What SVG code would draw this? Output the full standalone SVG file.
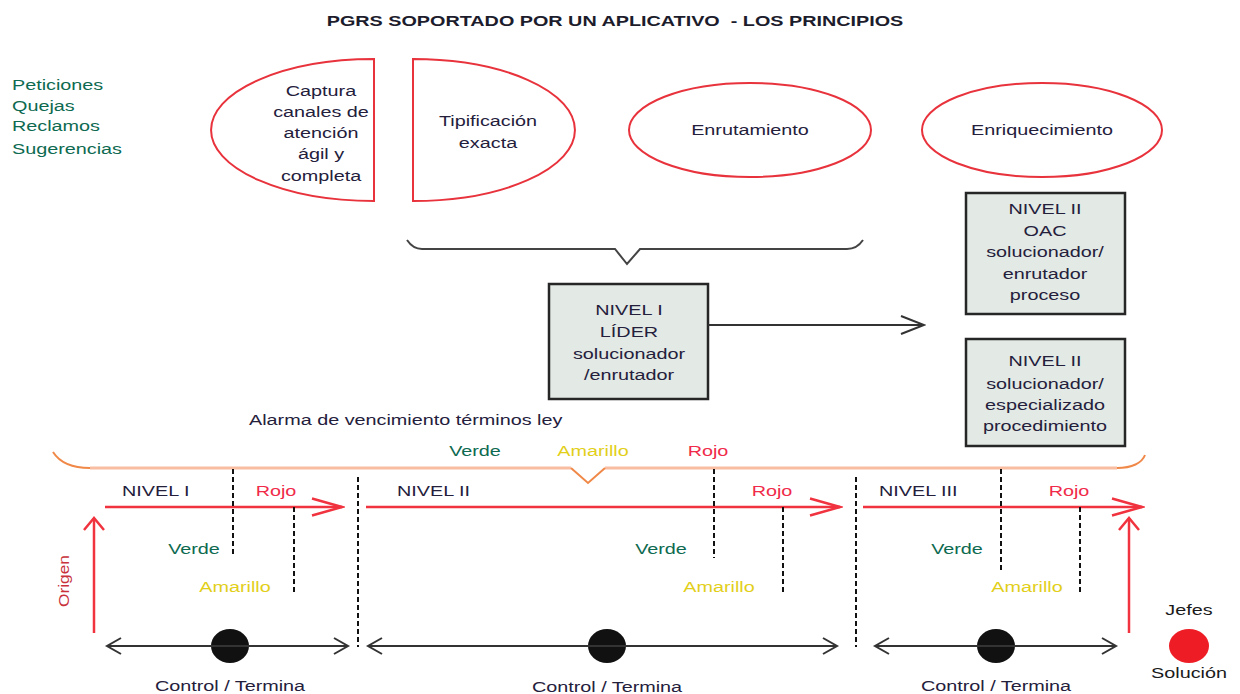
<svg xmlns="http://www.w3.org/2000/svg" width="1240" height="694" viewBox="0 0 1240 694">
<style>
text{font-family:"Liberation Sans",Arial,sans-serif;font-size:15px;fill:#24203c}
.c{text-anchor:middle}
.title{font-weight:bold;fill:#1c1c2c}
.g{fill:#0d6a50}
.y{fill:#e2cf1a}
.r{fill:#f02a48}
.k{fill:#1a1a1a}
.or{fill:#c8303a}
.ell{fill:#fff;stroke:#e8323c;stroke-width:2}
.box{fill:#e3e9e4;stroke:#262626;stroke-width:2.5}
.dot{fill:#111}
.dash{stroke:#111;stroke-width:2;stroke-dasharray:5 3;fill:none}
.red{stroke:#f0333f;stroke-width:2.5;fill:none}
.blk{stroke:#333;stroke-width:2;fill:none}
.brace{stroke:#444;stroke-width:2;fill:none}
.obrace{stroke:#f9bea2;stroke-width:3;fill:none}
.ocurve{stroke:#f08848;stroke-width:2;fill:none}
</style>
<defs>
<marker id="mr" markerUnits="userSpaceOnUse" markerWidth="34" markerHeight="22" viewBox="0 0 34 22" refX="31" refY="11" orient="auto"><path d="M1,2.5 L31,11 L1,19.5" fill="none" stroke="#f0333f" stroke-width="2.5"/></marker>
<marker id="mv" markerUnits="userSpaceOnUse" markerWidth="16" markerHeight="24" viewBox="0 0 16 24" refX="13" refY="12" orient="auto"><path d="M1,2 L13,12 L1,22" fill="none" stroke="#f0333f" stroke-width="2.5"/></marker>
<marker id="mk" markerUnits="userSpaceOnUse" markerWidth="18" markerHeight="20" viewBox="0 0 18 20" refX="15" refY="10" orient="auto-start-reverse"><path d="M1,2 L15,10 L1,18" fill="none" stroke="#333" stroke-width="2"/></marker>
<marker id="mm" markerUnits="userSpaceOnUse" markerWidth="26" markerHeight="22" viewBox="0 0 26 22" refX="24" refY="11" orient="auto"><path d="M1,2 L24,11 L1,20" fill="none" stroke="#333" stroke-width="2"/></marker>
</defs>
<rect width="1240" height="694" fill="#fff"/>

<g id="title">
<text class="title c" xml:space="preserve" transform="translate(615,26) scale(1.32,1)">PGRS SOPORTADO POR UN APLICATIVO  - LOS PRINCIPIOS</text>
</g>

<g id="tipos">
<text class="g" transform="translate(12,90) scale(1.32,1)">Peticiones</text>
<text class="g" transform="translate(12,111) scale(1.32,1)">Quejas</text>
<text class="g" transform="translate(12,131) scale(1.32,1)">Reclamos</text>
<text class="g" transform="translate(12,154) scale(1.32,1)">Sugerencias</text>
</g>

<g id="captura">
<path class="ell" d="M374,59 A163,71 0 0 0 374,201 Z"/>
<text class="c" transform="translate(321,0) scale(1.32,1)"><tspan x="0" y="96">Captura</tspan><tspan x="0" y="117">canales de</tspan><tspan x="0" y="138">atención</tspan><tspan x="0" y="159">ágil y</tspan><tspan x="0" y="181">completa</tspan></text>
</g>

<g id="tipificacion">
<path class="ell" d="M413,59 A162,71 0 0 1 413,201 Z"/>
<text class="c" transform="translate(488,0) scale(1.32,1)"><tspan x="0" y="126">Tipificación</tspan><tspan x="0" y="148">exacta</tspan></text>
</g>

<g id="enrutamiento">
<ellipse class="ell" cx="750" cy="130" rx="121" ry="47"/>
<text class="c" transform="translate(750,135) scale(1.32,1)">Enrutamiento</text>
</g>

<g id="enriquecimiento">
<ellipse class="ell" cx="1042" cy="130" rx="120" ry="47"/>
<text class="c" transform="translate(1042,135) scale(1.32,1)">Enriquecimiento</text>
</g>

<g id="nivel1-lider">
<rect class="box" x="549" y="284" width="159" height="115"/>
<text class="c" transform="translate(629,0) scale(1.32,1)"><tspan x="0" y="315">NIVEL I</tspan><tspan x="0" y="337">LÍDER</tspan><tspan x="0" y="359">solucionador</tspan><tspan x="0" y="380">/enrutador</tspan></text>
</g>

<g id="nivel2-oac">
<rect class="box" x="966" y="193" width="159" height="121"/>
<text class="c" transform="translate(1045,0) scale(1.32,1)"><tspan x="0" y="214">NIVEL II</tspan><tspan x="0" y="236">OAC</tspan><tspan x="0" y="257">solucionador/</tspan><tspan x="0" y="279">enrutador</tspan><tspan x="0" y="300">proceso</tspan></text>
</g>

<g id="nivel2-especializado">
<rect class="box" x="966" y="339" width="159" height="107"/>
<text class="c" transform="translate(1045,0) scale(1.32,1)"><tspan x="0" y="366">NIVEL II</tspan><tspan x="0" y="389">solucionador/</tspan><tspan x="0" y="410">especializado</tspan><tspan x="0" y="431">procedimiento</tspan></text>
</g>

<g id="alarma">
<text transform="translate(249,425) scale(1.32,1)">Alarma de vencimiento términos ley</text>
<text class="g c" transform="translate(475,456) scale(1.32,1)">Verde</text>
<text class="y c" transform="translate(593,456) scale(1.32,1)">Amarillo</text>
<text class="r c" transform="translate(708,456) scale(1.32,1)">Rojo</text>
</g>

<g id="tramo-nivel1">
<text transform="translate(122,496) scale(1.32,1)">NIVEL I</text>
<text class="r c" transform="translate(276,496) scale(1.32,1)">Rojo</text>
<text class="g c" transform="translate(194,554) scale(1.32,1)">Verde</text>
<text class="y c" transform="translate(235,592) scale(1.32,1)">Amarillo</text>
<ellipse class="dot" cx="230" cy="646" rx="19" ry="17"/>
<text class="c" transform="translate(230,691) scale(1.32,1)">Control / Termina</text>
</g>

<g id="tramo-nivel2">
<text transform="translate(397,496) scale(1.32,1)">NIVEL II</text>
<text class="r c" transform="translate(772,496) scale(1.32,1)">Rojo</text>
<text class="g c" transform="translate(661,554) scale(1.32,1)">Verde</text>
<text class="y c" transform="translate(719,592) scale(1.32,1)">Amarillo</text>
<ellipse class="dot" cx="607" cy="646" rx="19" ry="17"/>
<text class="c" transform="translate(607,692) scale(1.32,1)">Control / Termina</text>
</g>

<g id="tramo-nivel3">
<text transform="translate(879,496) scale(1.32,1)">NIVEL III</text>
<text class="r c" transform="translate(1069,496) scale(1.32,1)">Rojo</text>
<text class="g c" transform="translate(957,554) scale(1.32,1)">Verde</text>
<text class="y c" transform="translate(1027,592) scale(1.32,1)">Amarillo</text>
<ellipse class="dot" cx="996" cy="646" rx="19" ry="17"/>
<text class="c" transform="translate(996,691) scale(1.32,1)">Control / Termina</text>
</g>

<g id="origen">
<text class="or c" transform="translate(69,581) rotate(-90) scale(1.15,1)">Origen</text>
</g>

<g id="jefes-solucion">
<text class="k c" transform="translate(1189,615) scale(1.32,1)">Jefes</text>
<ellipse cx="1189" cy="646" rx="20" ry="17" fill="#ee1c25"/>
<text class="k c" transform="translate(1189,678) scale(1.32,1)">Solución</text>
</g>

<g id="connectors">
<path class="brace" d="M407,240 C411,246 415,249 422,249 L615,249 L627,264 L640,249 L847,249 C854,249 859,246 863,240"/>
<path class="obrace" d="M90,468 L571,468 M605,468 L1117,468"/>
<path class="ocurve" d="M53,452 C60,463 72,468 90,468 M571,468 L588,483 L605,468 M1117,468 C1132,468 1142,463 1145,455"/>
<path class="blk" d="M708,325 L924,325" marker-end="url(#mm)"/>
<path class="red" d="M105,507 L342,507" marker-end="url(#mr)"/>
<path class="red" d="M366,507 L840,507" marker-end="url(#mr)"/>
<path class="red" d="M863,507 L1142,507" marker-end="url(#mr)"/>
<path class="red" d="M94,633 L94,518" marker-end="url(#mv)"/>
<path class="red" d="M1129,633 L1129,518" marker-end="url(#mv)"/>
<path class="blk" d="M107,646 L348,646" marker-start="url(#mk)" marker-end="url(#mk)"/>
<path class="blk" d="M368,646 L837,646" marker-start="url(#mk)" marker-end="url(#mk)"/>
<path class="blk" d="M875,646 L1116,646" marker-start="url(#mk)" marker-end="url(#mk)"/>
<path class="dash" d="M358,477 L358,647 M856,477 L856,647"/>
<path class="dash" d="M233,469 L233,557 M714,469 L714,558 M1001,469 L1001,572"/>
<path class="dash" d="M294,507 L294,593 M783,507 L783,593 M1080,507 L1080,593"/>
</g>
</svg>
